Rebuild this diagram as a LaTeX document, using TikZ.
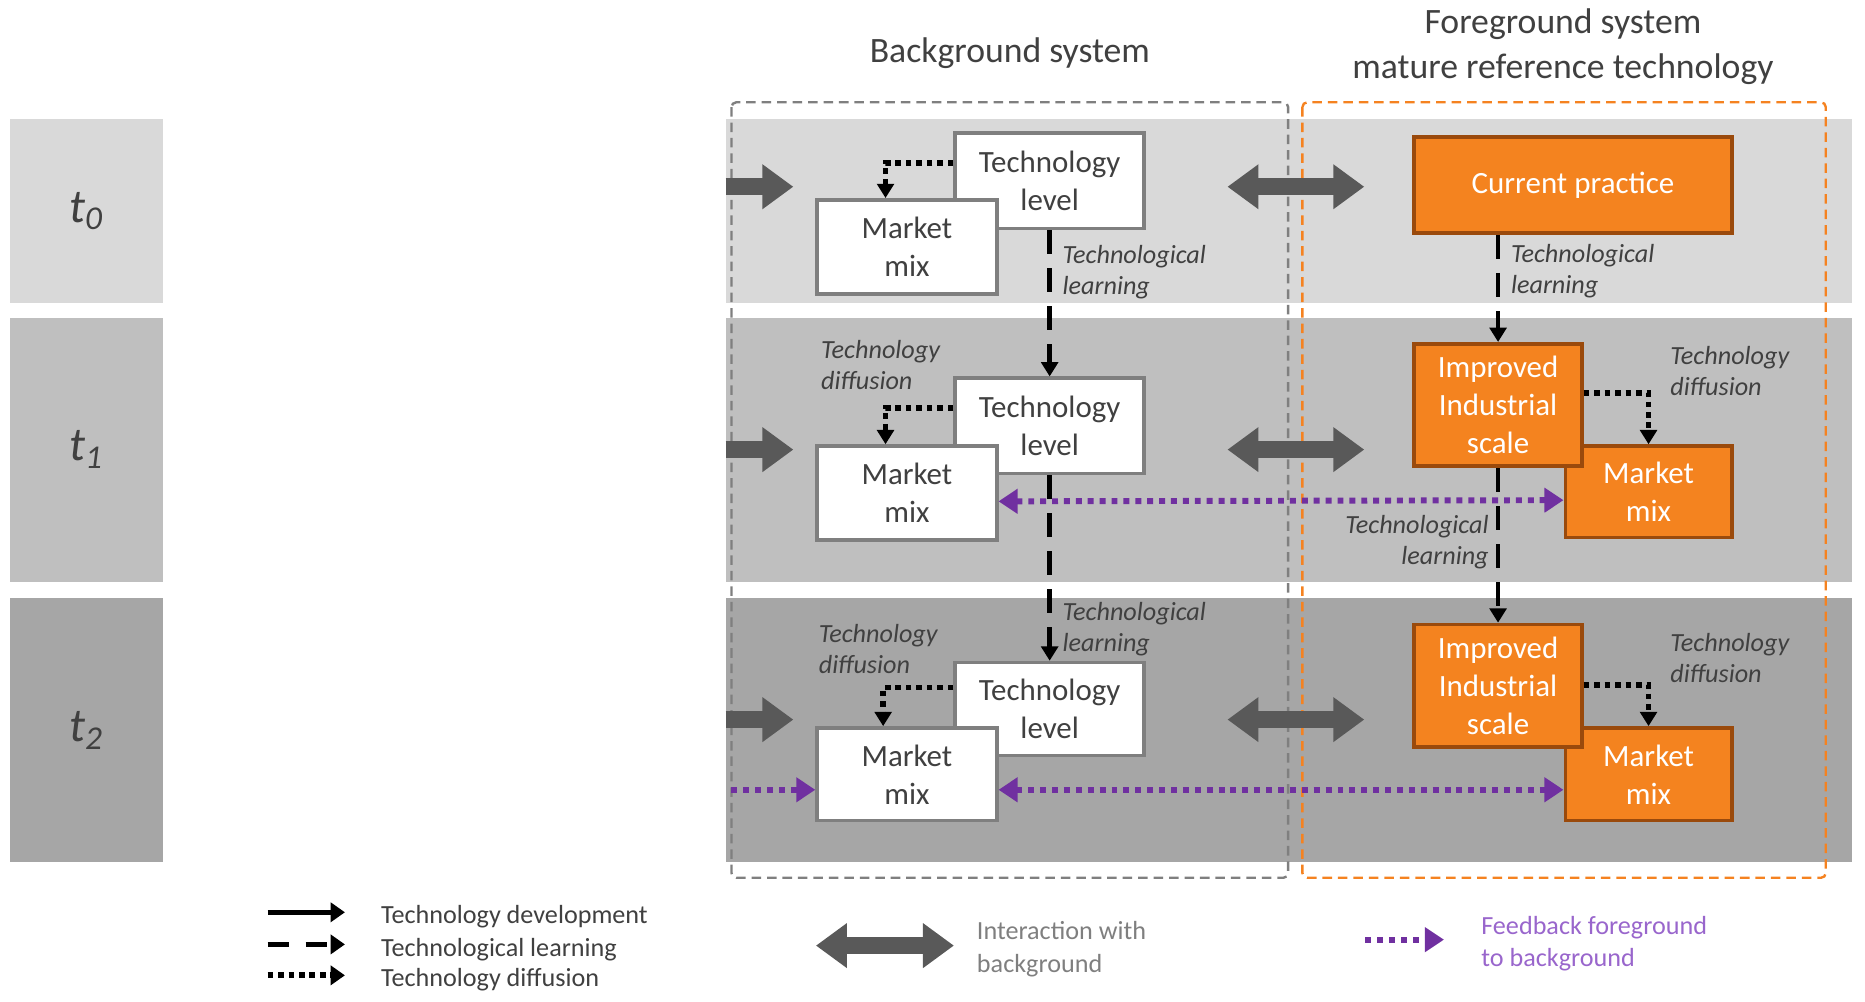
\documentclass[tikz,border=0pt]{standalone}
\usepackage{fontspec}
\setmainfont{Carlito}
\usetikzlibrary{arrows.meta,calc}
\definecolor{bandA}{HTML}{D9D9D9}
\definecolor{bandB}{HTML}{BFBFBF}
\definecolor{bandC}{HTML}{A6A6A6}
\definecolor{arrgray}{HTML}{595959}
\definecolor{boxgray}{HTML}{7F7F7F}
\definecolor{txtgray}{HTML}{404040}
\definecolor{orfill}{HTML}{F4831F}
\definecolor{ordraw}{HTML}{9A4A0C}
\definecolor{ordash}{HTML}{F58220}
\definecolor{purp}{HTML}{7030A0}
\definecolor{purptxt}{HTML}{9966CC}
\tikzset{
  whitebox/.style={draw=boxgray, line width=1.5pt, fill=white, text=txtgray, align=center,
    font=\fontsize{13}{16}\selectfont, inner sep=0pt},
  orbox/.style={draw=ordraw, line width=1.5pt, fill=orfill, text=white, align=center,
    font=\fontsize{13}{16}\selectfont, inner sep=0pt},
  lbl/.style={font=\fontsize{11}{13}\selectfont\itshape, text=txtgray, align=left, inner sep=0pt},
  legtxt/.style={font=\fontsize{11}{13.5}\selectfont, text=txtgray, align=left, inner sep=0pt, anchor=west},
  title/.style={font=\fontsize{15}{19}\selectfont, text=txtgray, align=center, inner sep=0pt},
  tbox/.style={minimum width=64.5pt, inner sep=0pt, text=txtgray, font=\fontsize{20}{24}\selectfont\itshape},
  learn/.style={line width=2pt, dash pattern=on 10pt off 6pt, -{Triangle[length=6pt,width=7pt]}},
  diffu/.style={line width=2.4pt, dash pattern=on 2.4pt off 2pt, -{Triangle[length=6pt,width=7pt]}},
  feed/.style={draw=purp, line width=2.5pt, dash pattern=on 2.5pt off 2.5pt},
  feedtip/.style={-{Triangle[length=8pt,width=10pt]}},
  feedtips/.style={{Triangle[length=8pt,width=10pt]}-{Triangle[length=8pt,width=10pt]}},
  big/.style={draw=arrgray, line width=7pt, -{Triangle[length=13pt,width=18pt]}},
  bigd/.style={draw=arrgray, line width=7pt, {Triangle[length=13pt,width=18pt]}-{Triangle[length=13pt,width=18pt]}},
}
\begin{document}
\begin{tikzpicture}[x=0.5pt,y=-0.5pt]
\useasboundingbox (0,0) rectangle (1568,842);
% time boxes
\node[tbox, fill=bandA, minimum height=77.5pt] (tb0) at (72.5,177.5) {\raisebox{-3pt}{t\textsubscript{0}}};
\node[tbox, fill=bandB, minimum height=111pt] (tb1) at (72.5,378) {\raisebox{-3pt}{t\textsubscript{1}}};
\node[tbox, fill=bandC, minimum height=111pt] (tb2) at (72.5,614) {\raisebox{-1pt}{t\textsubscript{2}}};
% bands
\fill[bandA] (610,100) rectangle (1557,255);
\fill[bandB] (610,267) rectangle (1557,489);
\fill[bandC] (610,503) rectangle (1557,725);
% system boxes
\draw[boxgray, line width=1pt, dash pattern=on 4pt off 2.5pt, rounded corners=2pt] (615,86) rectangle (1083,738);
\draw[ordash, line width=1pt, dash pattern=on 4pt off 2.5pt, rounded corners=2pt] (1095,86) rectangle (1535,738);
% titles
\node[title] (bgt) at (849,45) {Background system};
\node[title] (fgt) at (1314,39) {Foreground system\\mature reference technology};
% row t0
\node[whitebox, minimum width=79.5pt, minimum height=40pt] (tl0) at (882.5,152) {Technology\\level};
\node[whitebox, minimum width=75.5pt, minimum height=39.5pt] (mm0) at (762.5,207.5) {Market\\mix};
\node[orbox, minimum width=133.5pt, minimum height=40.5pt] (cp) at (1322.5,155.5) {Current practice};
% row t1
\node[whitebox, minimum width=79.5pt, minimum height=40pt] (tl1) at (882.5,358) {Technology\\level};
\node[whitebox, minimum width=75.5pt, minimum height=39.5pt] (mm1) at (762.5,414.5) {Market\\mix};
\node[orbox, minimum width=70pt, minimum height=38.5pt] (mmo1) at (1386,413.5) {Market\\mix};
\node[orbox, minimum width=70.5pt, minimum height=51.5pt] (imp1) at (1259.5,340.5) {Improved\\Industrial\\scale};
% row t2
\node[whitebox, minimum width=79.5pt, minimum height=39pt] (tl2) at (882.5,596) {Technology\\level};
\node[whitebox, minimum width=75.5pt, minimum height=39pt] (mm2) at (762.5,651) {Market\\mix};
\node[orbox, minimum width=70pt, minimum height=39pt] (mmo2) at (1386,651) {Market\\mix};
\node[orbox, minimum width=70.5pt, minimum height=51.5pt] (imp2) at (1259.5,576.5) {Improved\\Industrial\\scale};
% diffusion
\draw[diffu] ($(tl0.west)+(0,-15)$) -| ($(mm0.north west)+(59,0)$);
\draw[diffu] ($(tl1.west)+(0,-15)$) -| ($(mm1.north west)+(59,0)$);
\draw[diffu] ($(tl2.west)+(0,-18)$) -| ($(mm2.north west)+(57,0)$);
\draw[diffu] ($(imp1.east)+(0,-10)$) -| (mmo1.north);
\draw[diffu] ($(imp2.east)+(0,-0.5)$) -| (mmo2.north);
% learning
\draw[learn] (tl0.south) -- (tl1.north);
\draw[learn] (tl1.south) -- (tl2.north);
\draw[learn] (cp.south -| imp1.north) -- (imp1.north);
\draw[learn] (imp1.south) -- (imp2.north);
% labels
\node[lbl, anchor=west] (l0a) at (893,229) {Technological\\learning};
\node[lbl, anchor=west] (l0b) at (1270,228) {Technological\\learning};
\node[lbl, anchor=west] (d1a) at (690,307) {Technology\\diffusion};
\node[lbl, anchor=west] (d1b) at (1404,312) {Technology\\diffusion};
\node[lbl, anchor=east, align=right] (l1b) at (1252,456) {Technological\\learning};
\node[lbl, anchor=west] (l2a) at (893,529) {Technological\\learning};
\node[lbl, anchor=west] (d2a) at (688,546) {Technology\\diffusion};
\node[lbl, anchor=west] (d2b) at (1404,553) {Technology\\diffusion};
% feedback
\draw[feed, feedtips] ($(mm1.east)+(0,7)$) -- ($(mmo1.west)+(0,7)$);
\draw[feed, feedtips] ($(mm2.east)+(0,13)$) -- ($(mmo2.west)+(0,13)$);
\coordinate (fb2s) at (615,664);
\draw[feed, feedtip] (fb2s) -- (mm2.west |- fb2s);
% gray interaction arrows
\coordinate (g0s) at (610,157); \coordinate (g0e) at (667,157);
\coordinate (g1s) at (610,378); \coordinate (g1e) at (667,378);
\coordinate (g2s) at (610,605); \coordinate (g2e) at (667,605);
\draw[big] (g0s) -- (g0e);
\draw[big] (g1s) -- (g1e);
\draw[big] (g2s) -- (g2e);
\coordinate (d0s) at (1032,157); \coordinate (d0e) at (1147,157);
\coordinate (d1s) at (1032,378); \coordinate (d1e) at (1147,378);
\coordinate (d2s) at (1032,605); \coordinate (d2e) at (1147,605);
\draw[bigd] (d0s) -- (d0e);
\draw[bigd] (d1s) -- (d1e);
\draw[bigd] (d2s) -- (d2e);
% legend
\coordinate (lg1s) at (225,767); \coordinate (lg1e) at (290,767);
\coordinate (lg2s) at (225,794); \coordinate (lg2e) at (290,794);
\coordinate (lg3s) at (225,820); \coordinate (lg3e) at (290,820);
\draw[line width=2pt, -{Triangle[length=6pt,width=8pt]}] (lg1s) -- (lg1e);
\draw[line width=2pt, dash pattern=on 9pt off 7pt, -{Triangle[length=6pt,width=8pt]}] (lg2s) -- (lg2e);
\draw[line width=2.4pt, dash pattern=on 2.4pt off 2pt, -{Triangle[length=6pt,width=8pt]}] (lg3s) -- (lg3e);
\node[legtxt] (lt1) at (320,771) {Technology development};
\node[legtxt] (lt2) at (320,798) {Technological learning};
\node[legtxt] (lt3) at (320,824) {Technology diffusion};
\coordinate (lgds) at (686,795); \coordinate (lgde) at (802,795);
\draw[bigd] (lgds) -- (lgde);
\node[legtxt, text=boxgray] (lt4) at (821,798) {Interaction with\\background};
\coordinate (lgfs) at (1148,790); \coordinate (lgfe) at (1214,790);
\draw[feed, feedtip] (lgfs) -- (lgfe);
\node[legtxt, text=purptxt] (lt5) at (1245,793) {Feedback foreground\\to background};
\end{tikzpicture}
\end{document}
